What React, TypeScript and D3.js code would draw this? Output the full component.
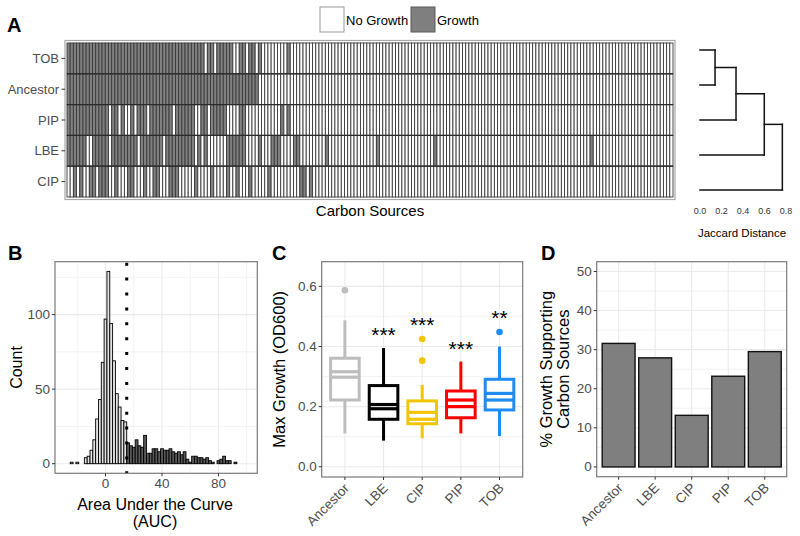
import React from 'react';
import * as d3 from 'd3';

const FONT = "'Liberation Sans', Arial, Helvetica, sans-serif";

// ---------- Panel A : growth heatmap ----------
const heatRows = ['TOB', 'Ancestor', 'PIP', 'LBE', 'CIP'];
const nCarbonSources = 190;
// column ranges (inclusive) of carbon sources that support growth
const growthTOB = [[0, 42], [44, 45], [47, 51], [54, 55], [57, 58], [60, 60], [69, 69]];
const growthAncestor = [[0, 59]];
const growthPIP = [[0, 12], [14, 15], [17, 17], [20, 20], [22, 24], [26, 32], [34, 39], [42, 43], [45, 49], [54, 55], [67, 67], [69, 69]];
const growthLBE = [[0, 5], [8, 12], [14, 21], [23, 29], [31, 39], [41, 41], [43, 43], [50, 55], [60, 60], [64, 66], [71, 72], [81, 81], [97, 97], [115, 115], [164, 164]];
const growthCIP = [[2, 2], [4, 4], [7, 8], [10, 12], [15, 15], [19, 20], [24, 24], [27, 28], [32, 34], [40, 40], [45, 45], [50, 50], [53, 53], [57, 57], [63, 63], [73, 74], [76, 76]];
const legendLabels = ['No Growth', 'Growth'];

// dendrogram
const dendroLeaves = ['TOB', 'Ancestor', 'PIP', 'LBE', 'CIP'];
const dendroMerges = [['TOB', 'Ancestor'], ['m1', 'PIP'], ['m2', 'LBE'], ['m3', 'CIP']];
const dendroHeights = [0.14, 0.335, 0.598, 0.766];
const jaccardTicks = [0, 0.2, 0.4, 0.6, 0.8];

// ---------- Panel B : AUC histogram ----------
const aucBinStart = -29;
const aucBinWidth = 2;
const aucCounts = [
  0, 0, 1, 0, 1, 0, 0, 4, 5, 9, 16, 30, 43, 68, 97, 129, 94, 69, 47, 38, 29, 28,
  14, 12, 11, 16, 12, 11, 19, 7, 7, 10, 10, 8, 10, 9, 9, 10, 8, 7, 8, 6, 8, 3, 1, 5, 5, 4, 4, 3, 4, 2, 1, 0, 2, 3, 5, 2, 2, 0, 1, 0, 0, 0, 0,
];
const aucThreshold = 15;
const aucXMajor = [0, 40, 80];
const aucXMinor = [-20, 20, 60, 100];
const aucYMajor = [0, 50, 100];
const aucYMinor = [25, 75, 125];

// ---------- Panel C : max growth boxplots ----------
const groups = ['Ancestor', 'LBE', 'CIP', 'PIP', 'TOB'];
const groupColors = ['#bdbdbd', '#000000', '#f2c500', '#ff0000', '#1e8cf0'];
const whiskerLow = [0.111, 0.087, 0.095, 0.111, 0.102];
const q1 = [0.222, 0.158, 0.143, 0.163, 0.189];
const medLow = [0.298, 0.193, 0.158, 0.2, 0.222];
const medHigh = [0.316, 0.207, 0.181, 0.222, 0.244];
const q3 = [0.361, 0.27, 0.219, 0.252, 0.291];
const whiskerHigh = [0.487, 0.395, 0.272, 0.35, 0.4];
const outlierGroup = ['Ancestor', 'CIP', 'CIP', 'TOB'];
const outlierValue = [0.587, 0.425, 0.353, 0.448];
const sigLabels = ['', '***', '***', '***', '**'];
const sigPos = [0, 0.456, 0.489, 0.409, 0.511];
const odMajor = [0, 0.2, 0.4, 0.6];
const odMinor = [0.1, 0.3, 0.5];

// ---------- Panel D : % growth supporting ----------
const pctGrowth = [31.6, 27.9, 13.2, 23.2, 29.5];
const pctMajor = [0, 10, 20, 30, 40, 50];
const pctMinor = [5, 15, 25, 35, 45];

const GRID = '#ebebeb';
const BORDER = '#7a7a7a';
const TICK = '#333333';
const LABEL = '#4d4d4d';
const TICKFS = 13.5;

function Frame({ x0, x1, y0, y1 }: any) {
  return <rect x={x0} y={y0} width={x1 - x0} height={y1 - y0} fill="none" stroke={BORDER} strokeWidth={1.2} />;
}

export default function App() {
  // ---- Panel A scales
  const xHeat = d3.scaleLinear().domain([0, nCarbonSources]).range([67, 673]);
  const yHeat = d3.scaleBand().domain(heatRows).range([43, 197]);
  const growthMap: Record<string, number[][]> = {
    TOB: growthTOB, Ancestor: growthAncestor, PIP: growthPIP, LBE: growthLBE, CIP: growthCIP,
  };
  const tiles: any[] = [];
  heatRows.forEach((r) => {
    const set = new Set<number>();
    growthMap[r].forEach(([a, b]) => { for (let i = a; i <= b; i++) set.add(i); });
    for (let i = 0; i < nCarbonSources; i++) {
      tiles.push({ r, i, g: set.has(i) });
    }
  });

  const xDen = d3.scaleLinear().domain([0, 0.8]).range([700, 786]);
  const yDen = d3.scalePoint().domain(dendroLeaves).range([50, 190]);
  const nodes: Record<string, { h: number; y: number }> = {};
  dendroLeaves.forEach((l) => { nodes[l] = { h: 0, y: yDen(l) as number }; });
  const denSegs: number[][] = [];
  dendroMerges.forEach(([a, b], i) => {
    const h = dendroHeights[i];
    const na = nodes[a], nb = nodes[b];
    denSegs.push([xDen(na.h), na.y, xDen(h), na.y]);
    denSegs.push([xDen(nb.h), nb.y, xDen(h), nb.y]);
    denSegs.push([xDen(h), na.y, xDen(h), nb.y]);
    nodes['m' + (i + 1)] = { h, y: (na.y + nb.y) / 2 };
  });

  // ---- Panel B scales
  const bX0 = 55, bX1 = 257.3, bY0 = 261.7, bY1 = 473.3;
  const xB = d3.scaleLinear().domain([-35.8, 107.5]).range([bX0, bX1]);
  const yB = d3.scaleLinear().domain([-6.45, 135.5]).range([bY1, bY0]);
  const bins = aucCounts.map((c, i) => ({ x0: aucBinStart + i * aucBinWidth, x1: aucBinStart + (i + 1) * aucBinWidth, c }));

  // ---- Panel C scales
  const cX0 = 321.7, cX1 = 522.7, cY0 = 261.7, cY1 = 477;
  const xC = d3.scalePoint().domain(groups).range([cX0, cX1]).padding(0.6);
  const yC = d3.scaleLinear().domain([-0.034, 0.682]).range([cY1, cY0]);
  const stepC = xC.step();
  const boxW = stepC * 0.74;

  // ---- Panel D scales
  const dX0 = 596.7, dX1 = 786.7, dY0 = 261.7, dY1 = 476.7;
  const xD = d3.scalePoint().domain(groups).range([dX0, dX1]).padding(0.6);
  const yD = d3.scaleLinear().domain([-2.5, 52.5]).range([dY1, dY0]);
  const barW = xD.step() * 0.9;

  const txt = (props: any, s: string) => <text fontFamily={FONT} {...props}>{s}</text>;

  return (
    <svg width={800} height={536} style={{ position: 'absolute', left: 0, top: 0, background: '#fff' }}>
      <rect x={0} y={0} width={800} height={536} fill="#fff" />

      {/* ================= Panel A ================= */}
      {txt({ x: 7, y: 32, fontSize: 20, fontWeight: 'bold', fill: '#000' }, 'A')}
      {/* legend */}
      <rect x={320} y={7} width={24} height={25} fill="#fff" stroke="#9a9a9a" strokeWidth={1} />
      {txt({ x: 346, y: 24.5, fontSize: 13, fill: '#000' }, legendLabels[0])}
      <rect x={411} y={7} width={24} height={25} fill="#7f7f7f" stroke="#5a5a5a" strokeWidth={1} />
      {txt({ x: 437, y: 24.5, fontSize: 13, fill: '#000' }, legendLabels[1])}

      <rect x={65} y={40.5} width={610} height={159} fill="#fff" stroke="#a8a8a8" strokeWidth={1.2} />
      <g>
        {tiles.map((t) => (
          <rect
            key={t.r + t.i}
            x={xHeat(t.i)}
            y={yHeat(t.r)}
            width={xHeat(1) - xHeat(0)}
            height={yHeat.bandwidth()}
            fill={t.g ? '#808080' : '#ffffff'}
            stroke="#3a3a3a"
            strokeWidth={0.9}
          />
        ))}
      </g>
      {heatRows.slice(1).map((r) => (
        <line key={'sep' + r} x1={67} x2={673} y1={yHeat(r)} y2={yHeat(r)} stroke="#2a2a2a" strokeWidth={1.2} />
      ))}
      {heatRows.map((r) => {
        const y = (yHeat(r) as number) + yHeat.bandwidth() / 2;
        return (
          <g key={r}>
            <line x1={61.5} x2={65} y1={y} y2={y} stroke={TICK} strokeWidth={1} />
            {txt({ x: 59, y: y + 4.5, fontSize: 13, fill: LABEL, textAnchor: 'end' }, r)}
          </g>
        );
      })}
      {txt({ x: 370, y: 216, fontSize: 15, fill: '#000', textAnchor: 'middle' }, 'Carbon Sources')}

      {/* dendrogram */}
      {denSegs.map((s, i) => (
        <line key={i} x1={s[0]} y1={s[1]} x2={s[2]} y2={s[3]} stroke="#111" strokeWidth={1.5} strokeLinecap="square" />
      ))}
      {jaccardTicks.map((t) =>
        <React.Fragment key={t}>{txt({ x: xDen(t), y: 214, fontSize: 9, fill: '#333', textAnchor: 'middle' }, t.toFixed(1))}</React.Fragment>
      )}
      {txt({ x: 742, y: 237, fontSize: 11.5, fill: '#000', textAnchor: 'middle' }, 'Jaccard Distance')}

      {/* ================= Panel B ================= */}
      {txt({ x: 8, y: 260, fontSize: 20, fontWeight: 'bold', fill: '#000' }, 'B')}
      <rect x={bX0} y={bY0} width={bX1 - bX0} height={bY1 - bY0} fill="#fff" />
      {aucXMinor.map((v) => <line key={'bxm' + v} x1={xB(v)} x2={xB(v)} y1={bY0} y2={bY1} stroke={GRID} strokeWidth={0.6} />)}
      {aucYMinor.map((v) => <line key={'bym' + v} x1={bX0} x2={bX1} y1={yB(v)} y2={yB(v)} stroke={GRID} strokeWidth={0.6} />)}
      {aucXMajor.map((v) => <line key={'bxM' + v} x1={xB(v)} x2={xB(v)} y1={bY0} y2={bY1} stroke={GRID} strokeWidth={1.1} />)}
      {aucYMajor.map((v) => <line key={'byM' + v} x1={bX0} x2={bX1} y1={yB(v)} y2={yB(v)} stroke={GRID} strokeWidth={1.1} />)}
      {bins.map((b, i) => (
        <rect
          key={'bin' + i}
          x={xB(b.x0)}
          y={yB(b.c)}
          width={xB(b.x1) - xB(b.x0)}
          height={yB(0) - yB(b.c)}
          fill={b.x0 >= aucThreshold ? '#595959' : '#e3e3e3'}
          stroke="#000"
          strokeWidth={0.9}
        />
      ))}
      <line x1={xB(aucThreshold)} x2={xB(aucThreshold)} y1={bY0 + 1} y2={bY1} stroke="#000" strokeWidth={3} strokeDasharray="3 11.9" />
      <Frame x0={bX0} x1={bX1} y0={bY0} y1={bY1} />
      {aucYMajor.map((v) => (
        <g key={'byt' + v}>
          <line x1={bX0 - 3} x2={bX0} y1={yB(v)} y2={yB(v)} stroke={TICK} />
          {txt({ x: bX0 - 5, y: yB(v) + 4.5, fontSize: TICKFS, fill: LABEL, textAnchor: 'end' }, String(v))}
        </g>
      ))}
      {aucXMajor.map((v) => (
        <g key={'bxt' + v}>
          <line x1={xB(v)} x2={xB(v)} y1={bY1} y2={bY1 + 3} stroke={TICK} />
          {txt({ x: xB(v), y: bY1 + 15, fontSize: TICKFS, fill: LABEL, textAnchor: 'middle' }, String(v))}
        </g>
      ))}
      {txt({ x: 155, y: 510, fontSize: 16, fill: '#000', textAnchor: 'middle' }, 'Area Under the Curve')}
      {txt({ x: 155, y: 527, fontSize: 16, fill: '#000', textAnchor: 'middle' }, '(AUC)')}
      {txt({ x: 0, y: 0, fontSize: 16, fill: '#000', textAnchor: 'middle', transform: `translate(22,${(bY0 + bY1) / 2}) rotate(-90)` }, 'Count')}

      {/* ================= Panel C ================= */}
      {txt({ x: 272, y: 260, fontSize: 20, fontWeight: 'bold', fill: '#000' }, 'C')}
      <rect x={cX0} y={cY0} width={cX1 - cX0} height={cY1 - cY0} fill="#fff" />
      {odMinor.map((v) => <line key={'cym' + v} x1={cX0} x2={cX1} y1={yC(v)} y2={yC(v)} stroke={GRID} strokeWidth={0.6} />)}
      {odMajor.map((v) => <line key={'cyM' + v} x1={cX0} x2={cX1} y1={yC(v)} y2={yC(v)} stroke={GRID} strokeWidth={1.1} />)}
      {groups.map((g) => <line key={'cxM' + g} x1={xC(g)} x2={xC(g)} y1={cY0} y2={cY1} stroke={GRID} strokeWidth={1.1} />)}
      {groups.map((g, i) => {
        const cx = xC(g) as number;
        const col = groupColors[i];
        return (
          <g key={'box' + g}>
            <line x1={cx} x2={cx} y1={yC(whiskerHigh[i])} y2={yC(q3[i])} stroke={col} strokeWidth={3} />
            <line x1={cx} x2={cx} y1={yC(q1[i])} y2={yC(whiskerLow[i])} stroke={col} strokeWidth={3} />
            <rect x={cx - boxW / 2} y={yC(q3[i])} width={boxW} height={yC(q1[i]) - yC(q3[i])} fill="#fff" stroke={col} strokeWidth={3} />
            <line x1={cx - boxW / 2} x2={cx + boxW / 2} y1={yC(medLow[i])} y2={yC(medLow[i])} stroke={col} strokeWidth={3.2} />
            <line x1={cx - boxW / 2} x2={cx + boxW / 2} y1={yC(medHigh[i])} y2={yC(medHigh[i])} stroke={col} strokeWidth={3.2} />
            {sigLabels[i] && txt({ x: cx, y: yC(sigPos[i]) + 12, fontSize: 21, fill: '#000', textAnchor: 'middle' }, sigLabels[i])}
          </g>
        );
      })}
      {outlierValue.map((v, k) => (
        <circle key={'out' + k} cx={xC(outlierGroup[k])} cy={yC(v)} r={3.3} fill={groupColors[groups.indexOf(outlierGroup[k])]} />
      ))}
      <Frame x0={cX0} x1={cX1} y0={cY0} y1={cY1} />
      {odMajor.map((v) => (
        <g key={'cyt' + v}>
          <line x1={cX0 - 3} x2={cX0} y1={yC(v)} y2={yC(v)} stroke={TICK} />
          {txt({ x: cX0 - 5, y: yC(v) + 4.5, fontSize: TICKFS, fill: LABEL, textAnchor: 'end' }, v.toFixed(1))}
        </g>
      ))}
      {groups.map((g) => {
        const x = xC(g) as number;
        return (
          <g key={'cxt' + g}>
            <line x1={x} x2={x} y1={cY1} y2={cY1 + 3} stroke={TICK} />
            {txt({ x: 0, y: 0, fontSize: TICKFS, fill: LABEL, textAnchor: 'end', transform: `translate(${x + 5},${cY1 + 12}) rotate(-45)` }, g)}
          </g>
        );
      })}
      {txt({ x: 0, y: 0, fontSize: 16.5, fill: '#000', textAnchor: 'middle', transform: `translate(285,${(cY0 + cY1) / 2}) rotate(-90)` }, 'Max Growth (OD600)')}

      {/* ================= Panel D ================= */}
      {txt({ x: 541, y: 260, fontSize: 20, fontWeight: 'bold', fill: '#000' }, 'D')}
      <rect x={dX0} y={dY0} width={dX1 - dX0} height={dY1 - dY0} fill="#fff" />
      {pctMinor.map((v) => <line key={'dym' + v} x1={dX0} x2={dX1} y1={yD(v)} y2={yD(v)} stroke={GRID} strokeWidth={0.6} />)}
      {pctMajor.map((v) => <line key={'dyM' + v} x1={dX0} x2={dX1} y1={yD(v)} y2={yD(v)} stroke={GRID} strokeWidth={1.1} />)}
      {groups.map((g) => <line key={'dxM' + g} x1={xD(g)} x2={xD(g)} y1={dY0} y2={dY1} stroke={GRID} strokeWidth={1.1} />)}
      {groups.map((g, i) => (
        <rect
          key={'bar' + g}
          x={(xD(g) as number) - barW / 2}
          y={yD(pctGrowth[i])}
          width={barW}
          height={yD(0) - yD(pctGrowth[i])}
          fill="#7f7f7f"
          stroke="#111"
          strokeWidth={1.4}
        />
      ))}
      <Frame x0={dX0} x1={dX1} y0={dY0} y1={dY1} />
      {pctMajor.map((v) => (
        <g key={'dyt' + v}>
          <line x1={dX0 - 3} x2={dX0} y1={yD(v)} y2={yD(v)} stroke={TICK} />
          {txt({ x: dX0 - 5, y: yD(v) + 4.5, fontSize: TICKFS, fill: LABEL, textAnchor: 'end' }, String(v))}
        </g>
      ))}
      {groups.map((g) => {
        const x = xD(g) as number;
        return (
          <g key={'dxt' + g}>
            <line x1={x} x2={x} y1={dY1} y2={dY1 + 3} stroke={TICK} />
            {txt({ x: 0, y: 0, fontSize: TICKFS, fill: LABEL, textAnchor: 'end', transform: `translate(${x + 5},${dY1 + 12}) rotate(-45)` }, g)}
          </g>
        );
      })}
      {txt({ x: 0, y: 0, fontSize: 16.5, fill: '#000', textAnchor: 'middle', transform: `translate(552,${(dY0 + dY1) / 2}) rotate(-90)` }, '% Growth Supporting')}
      {txt({ x: 0, y: 0, fontSize: 16.5, fill: '#000', textAnchor: 'middle', transform: `translate(569,${(dY0 + dY1) / 2}) rotate(-90)` }, 'Carbon Sources')}
    </svg>
  );
}
